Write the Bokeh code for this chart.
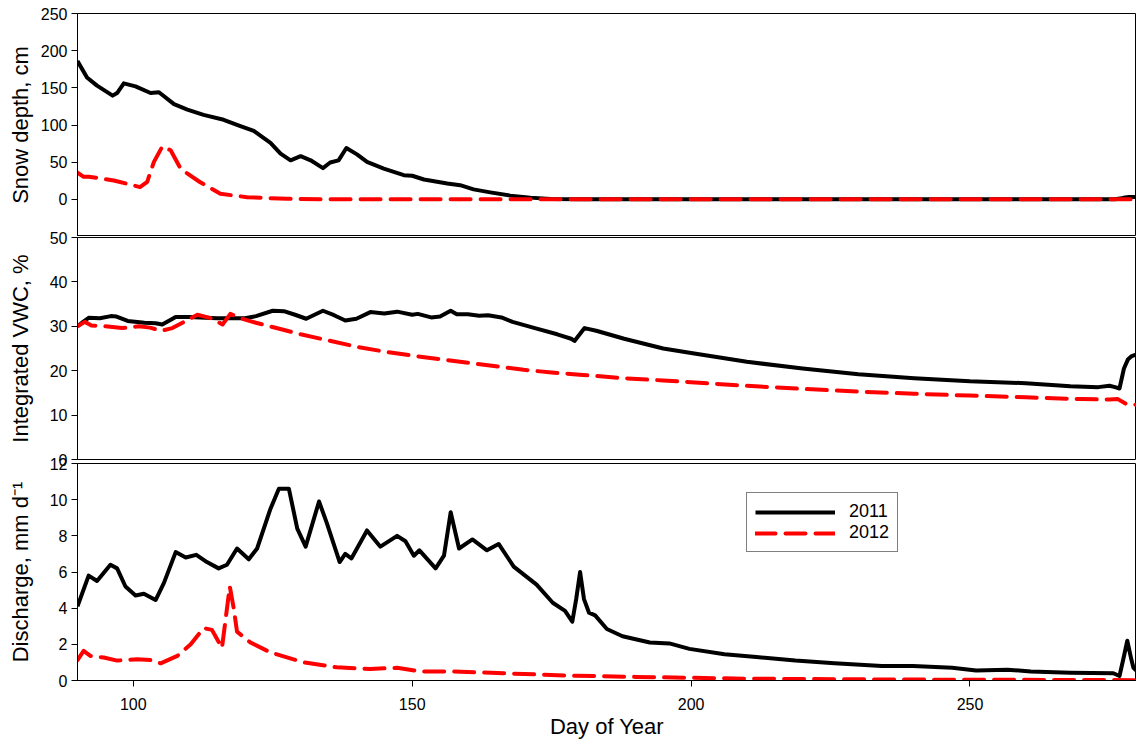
from bokeh.plotting import figure
from bokeh.layouts import column
from bokeh.models import Range1d, FixedTicker, Legend, LegendItem
from bokeh.embed import file_html
from bokeh.resources import INLINE

FONT = "Liberation Sans"

# ---------------- data ----------------
snow11_day = [90, 91.7, 93.5, 96.3, 97.1, 98.3, 100.4, 103.1, 104.6, 107.3, 109.7, 112.6, 116.2,
              119.2, 121.6, 124.6, 126.4, 128.2, 130, 131.8, 134, 135.3, 136.8, 138.2, 140.1, 141.9,
              144.9, 148.5, 150, 152.1, 156.3, 158.6, 161, 164, 167.6, 171.2, 174.8, 180, 200, 250,
              276, 277.5, 278.5, 280]
snow11_val = [186, 164, 153, 139.5, 143, 156, 152, 143, 144, 128, 120.7, 113.6, 107,
              98.5, 92, 76, 61.5, 52.5, 58, 52.5, 42, 49.5, 52.5, 69, 60.5, 50.4,
              41.4, 32.5, 31.7, 26.7, 21.4, 19, 13.4, 9.4, 5, 2.3, 0.5, 0, 0, 0,
              0, 2, 3, 3]

snow12_day = [90, 91.1, 92, 96.5, 101.2, 102.5, 103.7, 105.2, 106.7, 108.5, 112, 115.6, 120.4,
              127.6, 135, 280]
snow12_val = [36, 30.3, 30.5, 25.4, 16.5, 23.6, 50.4, 71, 66, 41, 23, 7.4, 2.9,
              0.7, 0, 0]

vwc11_day = [90, 91, 92, 94, 96, 97, 99, 102, 104, 105.2, 107.6, 110, 115, 120, 122, 125, 127,
             129, 131, 134, 136, 138, 140, 142.5, 145, 147.3, 150, 151, 153.4, 155, 156.9, 158,
             160, 162, 163.6, 166, 168, 172, 176, 178.5, 179.1, 180.9, 183, 188, 195, 200, 210,
             220, 230, 240, 250, 260, 268, 273, 275, 276, 276.8, 277.6, 278.3, 279, 280]
vwc11_val = [30.0, 31, 31.9, 31.8, 32.3, 32.2, 31.2, 30.8, 30.7, 30.4, 32.1, 32.1, 31.8, 31.8,
             32.3, 33.5, 33.4, 32.6, 31.7, 33.5, 32.5, 31.3, 31.7, 33.2, 32.9, 33.3, 32.6, 32.8,
             32, 32.2, 33.5, 32.7, 32.7, 32.4, 32.5, 32, 31, 29.6, 28.2, 27.2, 26.7, 29.6, 29,
             27.2, 25, 24, 22, 20.5, 19.2, 18.3, 17.6, 17.2, 16.5, 16.3, 16.6, 16.3, 16.0, 20.5,
             22.5, 23.3, 23.7]

vwc12_day = [90, 91.3, 92.5, 95, 98, 101, 103, 105, 107, 111.5, 114, 116, 117.4, 119, 122, 126,
             130, 135, 140, 145, 150, 155, 160, 165, 170, 175, 180, 188, 195, 200, 210, 220, 230,
             240, 250, 260, 270, 275, 276.5, 278, 280]
vwc12_val = [30, 31, 30.2, 30, 29.6, 30, 29.7, 29, 29.6, 32.6, 31.8, 30.4, 32.8, 31.9, 30.8, 29.5,
             28.2, 26.8, 25.4, 24.3, 23.4, 22.6, 21.8, 21, 20.2, 19.6, 19.1, 18.3, 17.8, 17.4,
             16.6, 15.9, 15.3, 14.8, 14.4, 14, 13.6, 13.5, 13.6, 12.5, 12.3]

q11_day = [90, 92, 93.5, 95.9, 97.1, 98.6, 100.4, 101.9, 104, 105.5, 107.6, 109.4, 111.3, 113.2,
           115.3, 116.8, 118.6, 120.7, 122.2, 124.6, 126.1, 127.9, 129.4, 130.9, 133.3, 134.7,
           137, 138, 139.1, 141.9, 144.3, 147.3, 148.8, 150.3, 151.3, 154.2, 155.7, 156.9, 158.4,
           160.8, 163.4, 165.5, 168.2, 172.3, 175.2, 177.4, 178.7, 179.4, 180.1, 180.8, 181.7,
           182.8, 184.9, 187.7, 192.6, 196.1, 199.7, 206, 211.7, 218.7, 225.7, 234.2, 239.8,
           246.8, 251.1, 256.7, 260.9, 268, 275.7, 276.8, 277.5, 278.2, 278.9, 279.3, 280]
q11_val = [4.1, 5.8, 5.5, 6.4, 6.2, 5.2, 4.7, 4.8, 4.45, 5.4, 7.1, 6.8, 6.95, 6.55,
           6.2, 6.4, 7.3, 6.7, 7.3, 9.5, 10.6, 10.6, 8.4, 7.4, 9.9, 8.7,
           6.55, 7.0, 6.75, 8.3, 7.4, 8.0, 7.7, 6.9, 7.2, 6.2, 6.9, 9.3, 7.3,
           7.8, 7.2, 7.55, 6.3, 5.3, 4.3, 3.85, 3.25, 4.5, 6.0, 4.5, 3.75,
           3.6, 2.85, 2.45, 2.1, 2.05, 1.75, 1.45, 1.3, 1.1, 0.95, 0.8, 0.8,
           0.7, 0.55, 0.6, 0.5, 0.43, 0.4, 0.25, 1.2, 2.2, 1.2, 0.7, 0.5]

q12_day = [90, 91.1, 92.3, 94.7, 97.1, 100.7, 103.1, 104.9, 107.9, 110.3, 112.6, 114.1, 115.9,
           116.8, 117.3, 118, 118.6, 121, 124.6, 130.6, 136.5, 142.5, 147.3, 151.5, 157.5, 166.4,
           178.4, 190, 210, 240, 280]
q12_val = [1.13, 1.64, 1.36, 1.27, 1.1, 1.18, 1.13, 0.95, 1.36, 2.0, 2.9, 2.8, 1.8,
           4.0, 5.2, 4.0, 2.7, 2.1, 1.55, 1.0, 0.73, 0.64, 0.7, 0.5, 0.5, 0.4,
           0.27, 0.2, 0.1, 0.05, 0.02]

years = ["2011", "2012"]
snow_ticks = [0, 50, 100, 150, 200, 250]
vwc_ticks = [0, 10, 20, 30, 40, 50]
q_ticks = [0, 2, 4, 6, 8, 10, 12]
x_ticks = [100, 150, 200, 250]

# ---------------- styling helpers ----------------
x_range = Range1d(90, 279.85)
RED = "#ff0000"
DASH = "20 10"


def make_panel(height, yr, yticks, top, bottom, ylabel, label_standoff, show_x):
    p = figure(width=1136, height=height, x_range=x_range, y_range=Range1d(*yr),
               output_backend="svg", toolbar_location=None,
               x_axis_location="below" if show_x else None,
               min_border_left=77, min_border_right=0,
               min_border_top=top, min_border_bottom=bottom)
    p.xgrid.grid_line_color = None
    p.ygrid.grid_line_color = None
    p.outline_line_color = "black"
    p.outline_line_width = 1
    p.outline_line_alpha = 1
    p.background_fill_color = "white"
    p.border_fill_color = "white"
    ya = p.yaxis[0]
    ya.ticker = FixedTicker(ticks=yticks)
    ya.axis_label = ylabel
    ya.axis_label_text_font = FONT
    ya.axis_label_text_font_size = "22px"
    ya.axis_label_text_font_style = "normal"
    ya.axis_label_text_color = "black"
    ya.axis_label_standoff = label_standoff
    ya.major_label_text_font = FONT
    ya.major_label_text_font_size = "16px"
    ya.major_label_text_color = "black"
    ya.major_label_standoff = 4
    ya.major_tick_out = 6
    ya.major_tick_in = 0
    ya.major_tick_line_color = "black"
    ya.minor_tick_line_color = None
    ya.axis_line_color = "black"
    return p


# Panel 1: snow depth (frame 13..236)
p1 = make_panel(236, (-50, 250), snow_ticks, 13, 0, "Snow depth, cm", 5, False)
p1.line(snow11_day, snow11_val, line_color="black", line_width=4, line_join="round")
p1.line(snow12_day, snow12_val, line_color=RED, line_width=4, line_dash=DASH,
        line_cap="round", line_join="round")

# Panel 2: integrated VWC (frame 237..459), overlaps the panel above by 8px
p2 = make_panel(239, (0, 50), vwc_ticks, 9, 8, "Integrated VWC, %", 14, False)
p2.border_fill_alpha = 0
p2.styles = {"margin-top": "-8px"}
p2.line(vwc11_day, vwc11_val, line_color="black", line_width=4, line_join="round")
p2.line(vwc12_day, vwc12_val, line_color=RED, line_width=4, line_dash=DASH,
        line_cap="round", line_join="round")

# Panel 3: discharge (frame 463..683), overlaps the panel above by 16px
p3 = make_panel(290, (0, 12), q_ticks, 12, 58, "Discharge, mm d\u207b\u00b9", 14, True)
p3.border_fill_alpha = 0
p3.styles = {"margin-top": "-16px"}
xa = p3.xaxis[0]
xa.ticker = FixedTicker(ticks=x_ticks)
xa.minor_tick_line_color = None
xa.axis_line_color = "black"
xa.major_tick_line_color = "black"
xa.axis_label = "Day of Year"
xa.axis_label_text_font = FONT
xa.axis_label_text_font_size = "22px"
xa.axis_label_text_font_style = "normal"
xa.axis_label_text_color = "black"
xa.axis_label_standoff = 1
xa.major_label_text_font = FONT
xa.major_label_text_font_size = "16px"
xa.major_label_text_color = "black"
xa.major_label_standoff = 11
xa.major_tick_out = 6
xa.major_tick_in = 0

r11 = p3.line(q11_day, q11_val, line_color="black", line_width=4, line_join="round")
r12 = p3.line(q12_day, q12_val, line_color=RED, line_width=4, line_dash=DASH,
              line_cap="round", line_join="round")

legend = Legend(items=[LegendItem(label=years[0], renderers=[r11]),
                       LegendItem(label=years[1], renderers=[r12])],
                location=(669, 128))
legend.border_line_color = "black"
legend.border_line_width = 1
legend.background_fill_color = "white"
legend.background_fill_alpha = 1
legend.padding = 8
legend.spacing = 0
legend.margin = 0
legend.glyph_width = 80
legend.glyph_height = 20
legend.label_height = 20
legend.label_standoff = 14
legend.label_text_font = FONT
legend.label_text_font_size = "18px"
legend.label_text_color = "black"
p3.add_layout(legend)

layout = column(p1, p2, p3, spacing=0)

open("out.html", "w").write(file_html(layout, INLINE))
